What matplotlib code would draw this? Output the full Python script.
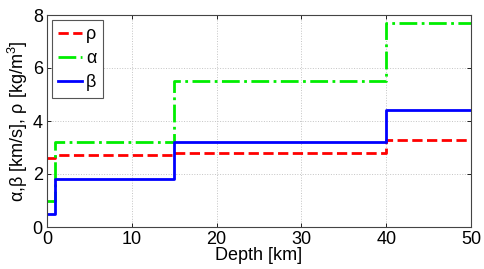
import matplotlib
matplotlib.use('Agg')
import matplotlib.pyplot as plt

plt.rcParams['font.family'] = ['Liberation Sans', 'DejaVu Sans']
plt.rcParams['mathtext.fontset'] = 'custom'
plt.rcParams['mathtext.rm'] = 'Liberation Sans'

# layer boundaries [km] and values per layer
depth = [0, 1, 15, 40, 50]
rho = [2.6, 2.7, 2.8, 3.3]
alpha = [1.0, 3.2, 5.5, 7.7]
beta = [0.5, 1.8, 3.2, 4.4]


def steps(vals):
    return vals + [vals[-1]]


fig = plt.figure(figsize=(4.85, 2.69), dpi=100)
ax = fig.add_axes([47 / 485, 1 - 227 / 269, 424 / 485, 212 / 269])

ax.step(depth, steps(rho), where='post', color='red', ls='--', lw=2, label=u'\u03c1')
ax.step(depth, steps(alpha), where='post', color='#00ee00', ls='-.', lw=2, label=u'\u03b1')
ax.step(depth, steps(beta), where='post', color='blue', ls='-', lw=2, label=u'\u03b2')

ax.set_xlim(0, 50)
ax.set_ylim(0, 8)
ax.set_xticks([0, 10, 20, 30, 40, 50])
ax.set_yticks([0, 2, 4, 6, 8])
ax.grid(True, ls=':', color='#c4c4c4', lw=0.7)
ax.tick_params(direction='in', top=True, right=True, labelsize=13, length=3,
               width=0.6, pad=3)
for s in ax.spines.values():
    s.set_color('#444444')
    s.set_linewidth(0.8)

ax.set_xlabel('Depth [km]', fontsize=13, labelpad=-1)
ax.set_ylabel(u'\u03b1,\u03b2 [km/s], \u03c1 [kg/m$^\\mathregular{3}$]', fontsize=13, labelpad=2)

leg = ax.legend(loc='upper left', fontsize=13, fancybox=False, framealpha=1,
                edgecolor='#555555', handlelength=1.35, handletextpad=0.2,
                borderaxespad=0.25, labelspacing=0.4, borderpad=0.35)
leg.get_frame().set_linewidth(0.8)

fig.savefig('out.png', dpi=100)
